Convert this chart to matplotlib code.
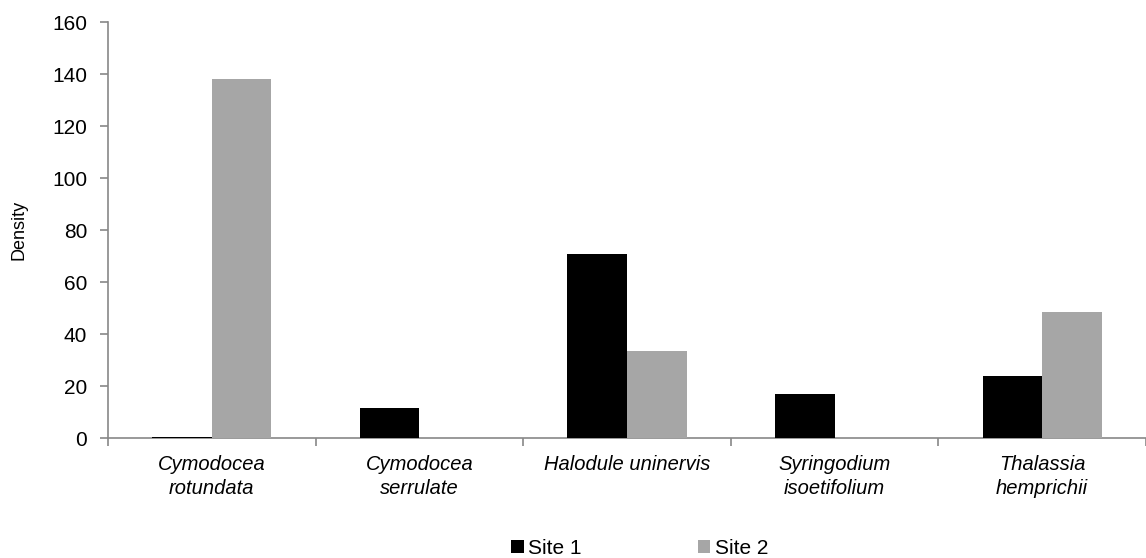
import matplotlib.pyplot as plt
import numpy as np

species = ["Cymodocea\nrotundata", "Cymodocea\nserrulate", "Halodule uninervis",
           "Syringodium\nisoetifolium", "Thalassia\nhemprichii"]
site1 = [0.4, 11.5, 70.8, 17.0, 23.8]
site2 = [138.0, 0.0, 33.5, 0.0, 48.5]

plt.rcParams['font.family'] = ['Liberation Sans', 'DejaVu Sans']

fig = plt.figure(figsize=(11.46, 5.58), dpi=100)
ax = fig.add_axes([108 / 1146, 1 - 438 / 558, 1038 / 1146, 416 / 558])

x = np.arange(len(species))
w = 0.287
ax.bar(x - w / 2, site1, w, color="black", label="Site 1", zorder=3)
ax.bar(x + w / 2, site2, w, color="#a6a6a6", label="Site 2", zorder=3)

# axis runs off the right edge of the figure
ax.set_xlim(-0.5, -0.5 + 1038 / 210.5)
ax.set_ylim(0, 160)
ax.set_yticks(range(0, 161, 20))
ax.set_ylabel("Density", fontsize=13, labelpad=18)

# category labels centred, tick marks between categories
ax.set_xticks(x)
ax.set_xticklabels(species, fontsize=14.5, style="italic", linespacing=1.35)
ax.set_xticks(np.arange(-0.5, len(species), 1.0), minor=True)
ax.tick_params(axis="x", which="major", length=0, pad=12)
ax.tick_params(axis="x", which="minor", length=6, color="#888888", width=1.2, direction="out")
ax.tick_params(axis="y", length=6, color="#888888", width=1.2, labelsize=15, pad=9)

for side in ["top", "right"]:
    ax.spines[side].set_visible(False)
for side in ["left", "bottom"]:
    ax.spines[side].set_color("#888888")
    ax.spines[side].set_linewidth(1.2)

fig.legend(loc="center", bbox_to_anchor=(0.558, 1 - 548 / 558), ncol=2, frameon=False,
           fontsize=15, handlelength=0.6, handleheight=0.6, handletextpad=0.2,
           columnspacing=5.6)

plt.savefig("out.png", dpi=100)
